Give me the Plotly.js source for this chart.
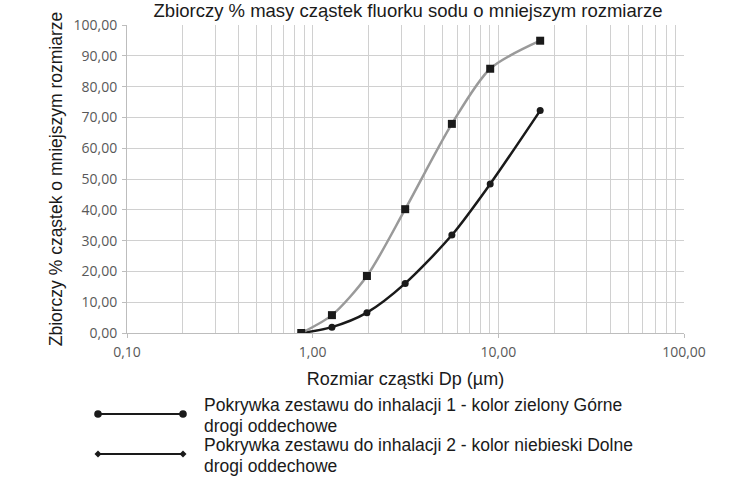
<!DOCTYPE html>
<html>
<head>
<meta charset="utf-8">
<script src="https://cdn.plot.ly/plotly-3.0.1.min.js"></script>
<style>html,body{margin:0;padding:0;background:#fff;}#chart{width:732px;height:481px;}</style>
</head>
<body>
<div id="chart"></div>
<script>
// Data
const particleSizes = [0.868, 1.27, 1.96, 3.15, 5.62, 9.04, 16.8];
const seriesGray = [0.0, 5.8, 18.5, 40.2, 67.9, 85.8, 94.9];
const seriesBlack = [0.0, 1.9, 6.6, 16.1, 31.8, 48.4, 72.2];
const legendLines = [
  ["Pokrywka zestawu do inhalacji 1 - kolor zielony Górne", "drogi oddechowe"],
  ["Pokrywka zestawu do inhalacji 2 - kolor niebieski Dolne", "drogi oddechowe"]
];
const yTickVals = [0, 10, 20, 30, 40, 50, 60, 70, 80, 90, 100];
const xTickVals = [0.1, 1, 10, 100];

const W = 732, H = 481, L = 127, R = 684, T = 25, B = 333;
const px = x => (x - L) / (R - L);
const py = y => (B - y) / (B - T);

const traces = [
  {
    x: particleSizes, y: seriesBlack, type: 'scatter', mode: 'lines+markers',
    line: {color: '#1a1a1a', width: 2.5, shape: 'spline', smoothing: 0.8},
    marker: {symbol: 'circle', size: 7, color: '#1a1a1a'},
    name: 'seria 2', showlegend: false
  },
  {
    x: particleSizes, y: seriesGray, type: 'scatter', mode: 'lines+markers',
    line: {color: '#9a9a9a', width: 2.5, shape: 'spline', smoothing: 0.8},
    marker: {symbol: 'square', size: 8, color: '#1a1a1a'},
    name: 'seria 1', showlegend: false
  }
];

const tickFont = {family: 'Open Sans, sans-serif', size: 14, color: '#595959'};
const titleFamily = 'Liberation Sans, Arial, sans-serif';
const legendFont = {family: titleFamily, size: 17.5, color: '#1a1a1a'};

const shapes = [];
const annotations = [];
const legendRows = [414, 454];
legendRows.forEach((yy, i) => {
  shapes.push({type: 'line', xref: 'paper', yref: 'paper', x0: px(98), x1: px(183), y0: py(yy), y1: py(yy),
    line: {color: '#1a1a1a', width: 2}});
  [98, 183].forEach(xx => {
    if (i === 0) {
      shapes.push({type: 'circle', xref: 'paper', yref: 'paper', xsizemode: 'pixel', ysizemode: 'pixel',
        xanchor: px(xx), yanchor: py(yy), x0: -3.8, x1: 3.8, y0: -3.8, y1: 3.8,
        fillcolor: '#1a1a1a', line: {color: '#1a1a1a', width: 0}});
    } else {
      shapes.push({type: 'path', xref: 'paper', yref: 'paper', xsizemode: 'pixel', ysizemode: 'pixel',
        xanchor: px(xx), yanchor: py(yy), path: 'M -3.5 0 L 0 3.5 L 3.5 0 L 0 -3.5 Z',
        fillcolor: '#1a1a1a', line: {color: '#1a1a1a', width: 0}});
    }
  });
  legendLines[i].forEach((txt, j) => {
    const centerY = yy - 9 + j * 20.5;
    annotations.push({xref: 'paper', yref: 'paper', x: px(202), y: py(centerY), xanchor: 'left', yanchor: 'middle',
      align: 'left', showarrow: false, text: txt, font: legendFont});
  });
});

const layout = {
  width: W, height: H,
  margin: {l: L, r: W - R, t: T, b: H - B},
  paper_bgcolor: '#ffffff', plot_bgcolor: '#ffffff',
  separators: ', ',
  title: {text: 'Zbiorczy % masy cząstek fluorku sodu o mniejszym rozmiarze',
    font: {family: titleFamily, size: 18.5, color: '#1a1a1a'},
    xref: 'container', yref: 'container', x: 408 / W, xanchor: 'center', y: 1 - 11 / H, yanchor: 'middle'},
  xaxis: {
    type: 'log', range: [-1, 2], tickvals: xTickVals, tickformat: '.2f',
    showgrid: true, gridcolor: '#d0d0d0', gridwidth: 1,
    minor: {dtick: 'D1', showgrid: true, gridcolor: '#d0d0d0', gridwidth: 1, ticks: ''},
    showline: true, linecolor: '#bdbdbd', linewidth: 1,
    ticks: 'outside', ticklen: 4, tickcolor: '#bdbdbd', ticklabelstandoff: 2,
    tickfont: tickFont, zeroline: false,
    title: {text: 'Rozmiar cząstki Dp (µm)', font: {family: titleFamily, size: 18, color: '#1a1a1a'}, standoff: 12}
  },
  yaxis: {
    range: [0, 100], tickvals: yTickVals, tickformat: '.2f',
    showgrid: true, gridcolor: '#d0d0d0', gridwidth: 1,
    showline: true, linecolor: '#bdbdbd', linewidth: 1,
    ticks: 'outside', ticklen: 4, tickcolor: '#bdbdbd', ticklabelstandoff: 2,
    tickfont: tickFont, zeroline: false,
    title: {text: 'Zbiorczy % cząstek o mniejszym rozmiarze', font: {family: titleFamily, size: 17.5, color: '#1a1a1a'}, standoff: 6}
  },
  shapes: shapes,
  annotations: annotations,
  showlegend: false
};

Plotly.newPlot('chart', traces, layout, {displayModeBar: false, staticPlot: true});
</script>
</body>
</html>
